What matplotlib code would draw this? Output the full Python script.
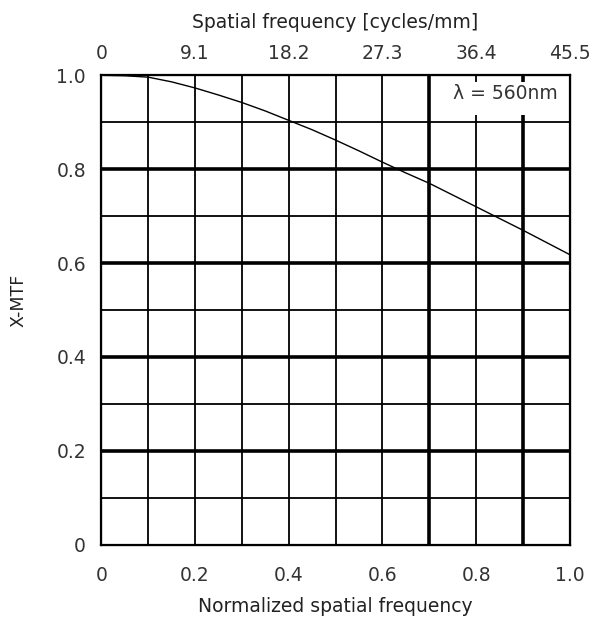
import numpy as np
import matplotlib.pyplot as plt
from matplotlib.patches import Rectangle

plt.rcParams['font.family'] = ['DejaVu Sans']
plt.rcParams['font.size'] = 13.5

# %% data
freq_norm = [0.0, 0.05, 0.1, 0.15, 0.2, 0.25, 0.3, 0.35, 0.4, 0.45, 0.5,
             0.55, 0.6, 0.65, 0.7, 0.75, 0.8, 0.85, 0.9, 0.95, 1.0]
mtf = [1.0, 0.999, 0.996, 0.986, 0.973, 0.958, 0.942, 0.924, 0.904, 0.884, 0.862,
       0.839, 0.815, 0.792, 0.770, 0.745, 0.720, 0.695, 0.670, 0.644, 0.618]

bottom_ticks = [0, 0.2, 0.4, 0.6, 0.8, 1.0]
bottom_labels = ['0', '0.2', '0.4', '0.6', '0.8', '1.0']
top_labels = ['0', '9.1', '18.2', '27.3', '36.4', '45.5']
y_ticks = [0, 0.2, 0.4, 0.6, 0.8, 1.0]
y_labels = ['0', '0.2', '0.4', '0.6', '0.8', '1.0']
thick_x = [0.7, 0.9]
thick_y = [0.2, 0.4, 0.6, 0.8]
txtc = '#333333'

# %% plot
fig = plt.figure(figsize=(5.96, 6.17), dpi=100)
ax = fig.add_axes([0.170, 0.117, 0.786, 0.761])

for g in np.arange(0.1, 1.0, 0.1):
    gx = round(g, 1)
    lw = 2.6 if gx in thick_x else 1.3
    ax.axvline(gx, color='black', lw=lw, zorder=1)
    lw = 2.6 if gx in thick_y else 1.3
    ax.axhline(gx, color='black', lw=lw, zorder=1)

ax.plot(freq_norm, mtf, color='black', lw=1.0, zorder=3)

ax.set_xlim(0, 1)
ax.set_ylim(0, 1)
for s in ax.spines.values():
    s.set_linewidth(1.6)

ax.set_xticks(bottom_ticks)
ax.set_xticklabels(bottom_labels, color=txtc)
ax.set_yticks(y_ticks)
ax.set_yticklabels(y_labels, color=txtc)
ax.tick_params(axis='x', length=0, pad=15)
ax.tick_params(axis='y', length=0, pad=11)
ax.set_xlabel('Normalized spatial frequency', color='#222222', labelpad=9)
ax.set_ylabel('X-MTF', color='#222222', fontsize=12.5)
ax.yaxis.set_label_coords(-0.158, 0.52)

top = ax.twiny()
top.set_xlim(0, 1)
top.set_xticks(bottom_ticks)
top.set_xticklabels(top_labels, color=txtc)
top.tick_params(length=0, pad=9)
top.set_xlabel('Spatial frequency [cycles/mm]', color='#222222', labelpad=11)

# white label box over the grid, top right
ax.add_patch(Rectangle((0.74, 0.915), 0.245, 0.071, transform=ax.transAxes,
                       facecolor='white', edgecolor='none', zorder=2))
ax.text(0.975, 0.962, '\u03bb = 560nm', transform=ax.transAxes, ha='right',
        va='center', color=txtc, zorder=4)

plt.savefig('out.png', dpi=100)
